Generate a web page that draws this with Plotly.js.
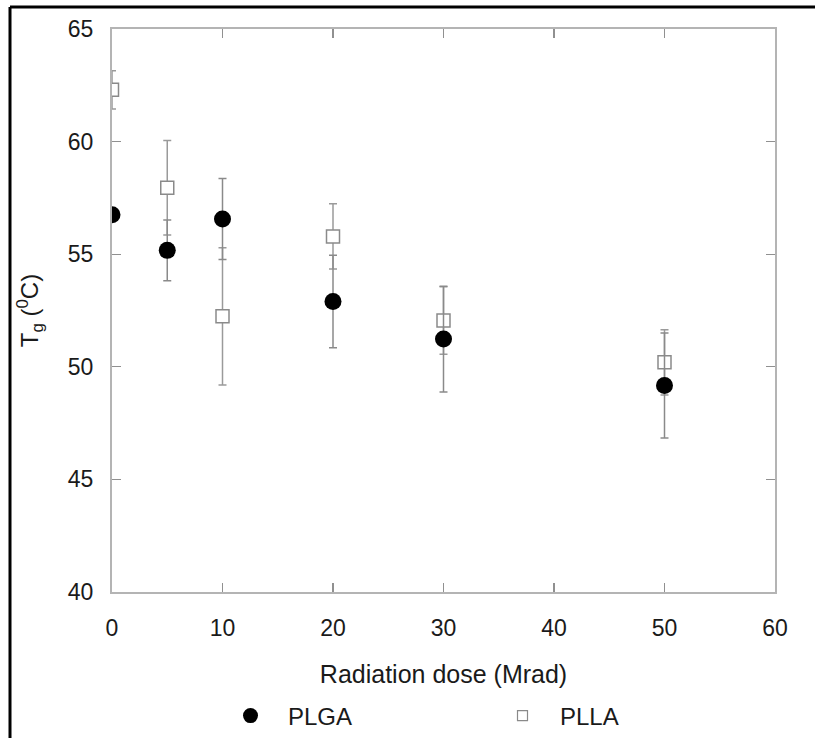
<!DOCTYPE html>
<html>
<head>
<meta charset="utf-8">
<script src="https://cdn.plot.ly/plotly-3.0.1.min.js"></script>
<style>
  html, body { margin: 0; padding: 0; background: #fff; }
  #chart { width: 815px; height: 738px; }
</style>
</head>
<body>
<div id="chart"></div>
<script>
// Radiation dose (Mrad)
const dose = [0, 5, 10, 20, 30, 50];
// PLGA glass transition temperature (°C) and error
const plgaTg = [56.75, 55.17, 56.56, 52.9, 51.23, 49.17];
const plgaErr = [0.3, 1.35, 1.8, 2.05, 2.35, 2.33];
// PLLA glass transition temperature (°C) and error
const pllaTg = [62.3, 57.95, 52.24, 55.79, 52.06, 50.2];
const pllaErr = [0.85, 2.1, 3.05, 1.45, 1.5, 1.45];

const seriesNames = ['PLGA', 'PLLA'];
const xTicks = [0, 10, 20, 30, 40, 50, 60];
const yTicks = [40, 45, 50, 55, 60, 65];

const fontFam = '"Liberation Sans", Arial, sans-serif';
const axisGray = '#b4b4b4';
const textCol = '#1a1a1a';

const traces = [
  {
    x: dose, y: pllaTg, type: 'scatter', mode: 'markers', name: seriesNames[1],
    showlegend: false,
    marker: { symbol: 'square', size: 13, color: '#ffffff', line: { color: '#8a8a8a', width: 1.5 } },
    error_y: { type: 'data', array: pllaErr, visible: true, color: '#9a9a9a', thickness: 1.5, width: 4 }
  },
  {
    x: dose, y: plgaTg, type: 'scatter', mode: 'markers', name: seriesNames[0],
    showlegend: false,
    marker: { symbol: 'circle', size: 17, color: '#000000' },
    error_y: { type: 'data', array: plgaErr, visible: true, color: '#8a8a8a', thickness: 1.5, width: 4 }
  },
  // legend-only entries
  {
    x: [null], y: [null], type: 'scatter', mode: 'markers', name: seriesNames[0],
    marker: { symbol: 'circle', size: 15, color: '#000000' }
  },
  {
    x: [null], y: [null], type: 'scatter', mode: 'markers', name: seriesNames[1],
    marker: { symbol: 'square', size: 10, color: '#ffffff', line: { color: '#8a8a8a', width: 1.2 } }
  }
];

const layout = {
  width: 815, height: 738,
  paper_bgcolor: '#ffffff', plot_bgcolor: '#ffffff',
  margin: { l: 112, r: 40, t: 29, b: 146, autoexpand: false },
  font: { family: fontFam, color: textCol, size: 22 },
  showlegend: true,
  legend: {
    orientation: 'h', xref: 'container', yref: 'container',
    x: 213 / 815, xanchor: 'left', y: 1 - 716 / 738, yanchor: 'middle',
    font: { family: fontFam, size: 24, color: textCol },
    entrywidth: 192, entrywidthmode: 'pixels', itemwidth: 65,
    traceorder: 'normal', bgcolor: 'rgba(0,0,0,0)'
  },
  xaxis: {
    range: [0, 60], tickvals: xTicks, ticktext: xTicks.map(String),
    automargin: false,
    showgrid: false, zeroline: false,
    showline: true, linecolor: axisGray, linewidth: 2, mirror: 'ticks',
    ticks: 'inside', ticklen: 9, tickcolor: '#909090', tickwidth: 1.2,
    ticklabelstandoff: 14,
    tickfont: { family: fontFam, size: 23, color: textCol },
    title: { text: 'Radiation dose (Mrad)', font: { family: fontFam, size: 25, color: textCol }, standoff: 26 }
  },
  yaxis: {
    range: [40, 65], tickvals: yTicks, ticktext: yTicks.map(String),
    automargin: false,
    showgrid: false, zeroline: false,
    showline: true, linecolor: axisGray, linewidth: 2, mirror: 'ticks',
    ticks: 'inside', ticklen: 9, tickcolor: '#909090', tickwidth: 1.2,
    ticklabelstandoff: 12,
    tickfont: { family: fontFam, size: 23, color: textCol },
    title: { text: 'T<sub>g</sub> (<sup>0</sup>C)', font: { family: fontFam, size: 24, color: textCol }, standoff: 22 }
  },
  shapes: [
    { type: 'line', xref: 'paper', yref: 'paper', x0: (10 - 112) / 663, x1: 1.2, y0: (592 - 7) / 563, y1: (592 - 7) / 563, line: { color: '#000', width: 3 } },
    { type: 'line', xref: 'paper', yref: 'paper', x0: (10 - 112) / 663, x1: (10 - 112) / 663, y0: (592 - 7) / 563, y1: -0.4, line: { color: '#000', width: 3 } }
  ]
};

Plotly.newPlot('chart', traces, layout, { displayModeBar: false, staticPlot: true });
</script>
</body>
</html>
